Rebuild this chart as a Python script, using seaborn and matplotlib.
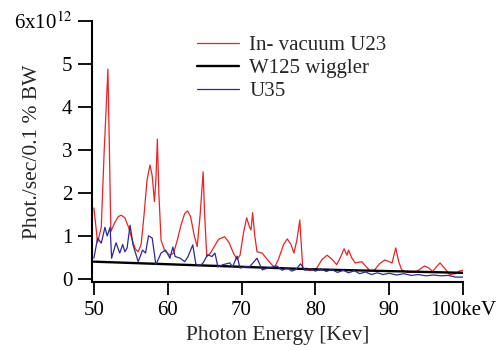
import numpy as np
import pandas as pd
import seaborn as sns
import matplotlib
matplotlib.use('Agg')
import matplotlib.pyplot as plt

# values (x in keV, y in units of 1e12)
u23_x = [50.0, 50.5, 51.0, 51.4, 51.9, 52.1, 52.3, 52.8, 53.3, 53.7, 54.2, 54.7, 55.2, 55.6,
         56.0, 56.4, 56.8, 57.2, 57.6, 57.9, 58.2, 58.4, 58.6, 58.8, 59.1, 59.6, 60.3, 60.8,
         61.3, 61.8, 62.3, 62.7, 63.1, 63.6, 64.0, 64.4, 64.8, 65.0, 65.3, 65.8, 66.3, 66.9,
         67.7, 68.3, 68.9, 69.4, 69.8, 70.3, 70.7, 71.1, 71.3, 71.5, 71.8, 72.1, 72.8, 73.5,
         74.1, 74.5, 75.0, 75.7, 76.2, 76.7, 77.1, 77.5, 77.9, 78.1, 78.3, 79.0, 79.6, 80.2,
         80.9, 81.6, 82.3, 82.9, 83.4, 83.9, 84.3, 84.5, 84.9, 85.4, 86.3, 86.8, 87.4, 88.0,
         88.7, 89.4, 90.0, 90.4, 90.9, 91.3, 91.7, 92.5, 93.2, 93.8, 94.8, 95.4, 95.9, 96.4,
         96.9, 97.5, 98.2, 99.0, 99.5, 100.0]
u23_y = [1.65, 0.85, 1.2, 3.0, 4.88, 3.0, 1.1, 1.3, 1.45, 1.48, 1.42, 1.2, 0.9, 0.7,
         0.63, 0.8, 1.5, 2.3, 2.65, 2.4, 1.8, 2.3, 3.25, 2.0, 0.9, 0.65, 0.55, 0.6,
         0.9, 1.25, 1.52, 1.58, 1.45, 1.0, 0.75, 1.5, 2.49, 1.5, 0.52, 0.6, 0.75, 0.92,
         0.98, 0.85, 0.6, 0.45, 0.55, 1.1, 1.42, 1.2, 1.14, 1.54, 1.0, 0.63, 0.6, 0.45,
         0.33, 0.28, 0.45, 0.8, 0.93, 0.8, 0.6, 0.9, 1.37, 0.8, 0.25, 0.2, 0.2, 0.25,
         0.45, 0.55, 0.45, 0.33, 0.5, 0.7, 0.55, 0.67, 0.5, 0.37, 0.4, 0.3, 0.19, 0.2,
         0.35, 0.44, 0.4, 0.37, 0.72, 0.4, 0.21, 0.15, 0.15, 0.18, 0.3, 0.25, 0.17, 0.28,
         0.37, 0.25, 0.1, 0.12, 0.18, 0.2]

w125_x = [50, 60, 70, 80, 90, 100]
w125_y = [0.40, 0.34, 0.28, 0.22, 0.18, 0.14]

u35_x = [50.0, 50.5, 51.0, 51.5, 51.8, 52.2, 52.4, 53.0, 53.5, 53.9, 54.2, 54.5, 54.9, 55.3,
         56.0, 56.6, 57.0, 57.4, 57.9, 58.4, 59.1, 59.7, 60.3, 60.7, 61.0, 61.7, 62.3, 62.7,
         63.4, 63.8, 64.3, 64.8, 65.4, 66.0, 66.4, 66.8, 67.5, 68.4, 68.8, 69.4, 69.8, 70.5,
         71.1, 72.1, 72.8, 73.6, 74.8, 75.5, 76.2, 76.8, 77.4, 78.0, 78.6, 79.3, 80.0, 80.8,
         81.5, 82.2, 83.0, 83.8, 84.5, 85.3, 86.0, 86.8, 87.6, 88.4, 89.2, 90.0, 91.0, 92.0,
         93.0, 94.0, 95.0, 96.0, 97.0, 98.0, 99.0, 100.0]
u35_y = [0.48, 0.95, 0.83, 1.2, 1.0, 1.2, 0.48, 0.84, 0.6, 0.8, 0.63, 0.72, 1.25, 0.79,
         0.4, 0.67, 0.6, 1.0, 0.95, 0.33, 0.6, 0.67, 0.48, 0.74, 0.52, 0.48, 0.4, 0.5,
         0.79, 0.35, 0.3, 0.37, 0.56, 0.52, 0.6, 0.28, 0.33, 0.37, 0.28, 0.53, 0.25, 0.28,
         0.28, 0.48, 0.21, 0.25, 0.3, 0.2, 0.26, 0.18, 0.22, 0.35, 0.2, 0.24, 0.18, 0.23,
         0.17, 0.22, 0.15, 0.2, 0.14, 0.19, 0.12, 0.16, 0.1, 0.14, 0.1, 0.13, 0.09, 0.12,
         0.08, 0.1, 0.07, 0.09, 0.07, 0.08, 0.04, 0.04]

x_ticks = [50, 60, 70, 80, 90, 100]
x_labels = ['50', '60', '70', '80', '90', '100keV']
y_ticks = [0, 1, 2, 3, 4, 5, 6]
y_labels = ['0', '1', '2', '3', '4', '5', '6x10$^{12}$']

sns.set_style('ticks')
plt.rcParams['font.family'] = ['Liberation Serif', 'DejaVu Serif']
plt.rcParams['mathtext.fontset'] = 'stix'

fig = plt.figure(figsize=(5.01, 3.51), dpi=100)
ax = fig.add_axes([0.183, 0.197, 0.741, 0.743])

sns.lineplot(x=u23_x, y=u23_y, ax=ax, color='#ee2222', linewidth=0.9, label='In- vacuum U23')
sns.lineplot(x=w125_x, y=w125_y, ax=ax, color='black', linewidth=1.7, label='W125 wiggler')
sns.lineplot(x=u35_x, y=u35_y, ax=ax, color='#2a2a9c', linewidth=0.9, label='U35')

ax.set_xlim(49.7, 100)
ax.set_ylim(-0.07, 6)
ax.set_xticks(x_ticks)
ax.set_xticklabels(x_labels)
ax.set_yticks(y_ticks)
ax.set_yticklabels(y_labels)
ax.tick_params(axis='both', labelsize=15, width=1.3, color='black', labelcolor='black')
ax.tick_params(axis='y', length=10, pad=4)
ax.tick_params(axis='x', length=9, pad=5)
for side in ['top', 'right']:
    ax.spines[side].set_visible(False)
for side in ['left', 'bottom']:
    ax.spines[side].set_linewidth(1.5)
    ax.spines[side].set_color('black')

ax.set_xlabel('Photon Energy [Kev]', fontsize=15.5)
ax.xaxis.set_label_coords(0.5, -0.168)
ax.set_ylabel('Phot./sec/0.1 % BW', fontsize=15.5)
ax.yaxis.set_label_coords(-0.135, 0.5)

ax.legend(loc='upper left', bbox_to_anchor=(0.262, 0.975), frameon=False, fontsize=15,
          handlelength=2.0, handletextpad=0.5, labelspacing=0.15, borderaxespad=0)

fig.savefig('out.png', dpi=100)
